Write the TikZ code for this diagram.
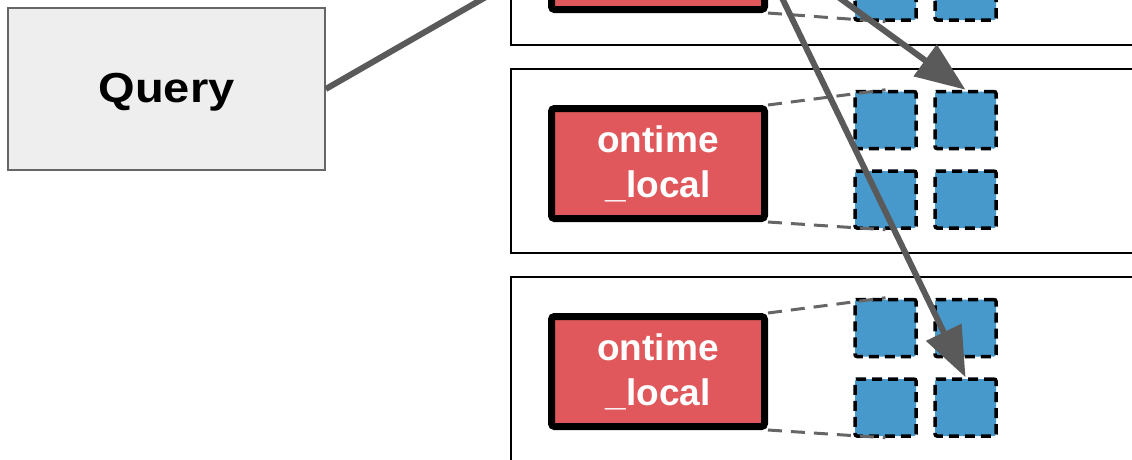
\documentclass[tikz,border=0pt]{standalone}
\usepackage{fontspec}
\setmainfont{Liberation Sans}
\usetikzlibrary{arrows.meta}
\definecolor{qfill}{HTML}{EEEEEE}
\definecolor{qline}{HTML}{666666}
\definecolor{redf}{HTML}{E0585B}
\definecolor{bluef}{HTML}{4799CB}
\definecolor{arrowc}{HTML}{5A5A5A}
\definecolor{dashc}{HTML}{666666}
\tikzset{
  query/.style={draw=qline, fill=qfill, line width=1.5pt, minimum width=317pt, minimum height=162pt, inner sep=0pt,
    text height=36pt, text depth=10pt, font=\bfseries\fontsize{42}{50}\selectfont},
  server/.style={draw=black, line width=1.5pt},
  redbox/.style={draw=black, fill=redf, line width=7pt, rounded corners=3pt, minimum width=213pt, minimum height=110pt,
    inner sep=0pt, align=center, text=white, font=\bfseries\fontsize{37}{45}\selectfont},
  shard/.style={draw=black, fill=bluef, line width=3.5pt, dash pattern=on 10pt off 6pt, rounded corners=2pt,
    minimum width=61pt, minimum height=57pt, inner sep=0pt},
  link/.style={draw=dashc, line width=3pt, dash pattern=on 14pt off 9pt},
  flow/.style={draw=arrowc, line width=6pt, -{Triangle[length=50pt, width=38pt]}},
  flowline/.style={draw=arrowc, line width=6pt},
}
\begin{document}
\begin{tikzpicture}[x=1pt,y=-1pt]
\useasboundingbox (0,0) rectangle (1132,459);
\clip (0,0) rectangle (1132,459);
% server frames
\draw[server] (511,-140) rectangle (1145,45);
\draw[server] (511,69) rectangle (1145,253);
\draw[server] (511,277) rectangle (1145,480);
% query
\node[query] (query) at (166.5,89) {\scalebox{1.12}[1]{Query}};
% servers content
\node[redbox] (red1) at (658,-45.5) {};
\node[redbox] (red2) at (658,163.5) {ontime\\\_local};
\node[redbox] (red3) at (658,371.5) {ontime\\\_local};
\foreach \i/\dy in {1/-208,2/0,3/208}{
  \node[shard] (sq\i11) at (885.5,120+\dy) {};
  \node[shard] (sq\i12) at (965.5,120+\dy) {};
  \node[shard] (sq\i21) at (885.5,199.5+\dy) {};
  \node[shard] (sq\i22) at (965.5,199.5+\dy) {};
  \draw[link] (red\i.north east) -- (sq\i11.north);
  \draw[link] (red\i.south east) -- (sq\i21.south);
}
% connectors
\coordinate (up1) at (585,-60);
\coordinate (up2) at (760,-60);
\coordinate (up3) at (754,-60);
\draw[flowline] (query.east) -- (up1);
\draw[flow] (up2) -- (sq212.north);
\draw[flow] (up3) -- (sq322.north);
\end{tikzpicture}
\end{document}
